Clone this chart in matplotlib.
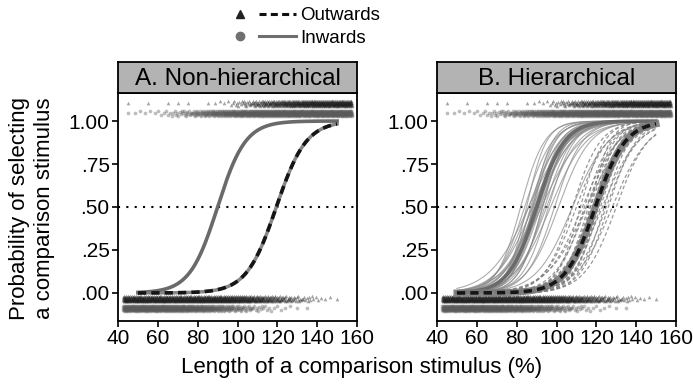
import numpy as np
import matplotlib
matplotlib.use('Agg')
import matplotlib.pyplot as plt
from matplotlib.lines import Line2D
from matplotlib.legend_handler import HandlerTuple

plt.rcParams['font.family'] = ['Liberation Sans', 'DejaVu Sans']

# stimulus lengths (%) and number of "selected" responses out of n_trials at each
levels = [45, 50, 55, 60, 65, 70, 75, 80, 85, 90, 95, 100,
          105, 110, 115, 120, 125, 130, 135, 140, 145, 150, 155]
n_trials = 60
out_yes = [1, 0, 1, 0, 1, 1, 1, 0, 1, 2, 3, 8,
           12, 20, 28, 35, 42, 48, 52, 56, 58, 59, 60]
in_yes = [1, 2, 2, 3, 5, 8, 12, 18, 24, 30, 36, 42,
          48, 52, 55, 57, 58, 59, 59, 60, 60, 60, 60]

# group-level logistic fits: midpoint and scale
mean_in = (90.0, 7.0)
mean_out = (119.5, 7.5)

# per-participant fits (hierarchical model)
mids_in = [82, 84, 85, 86, 87, 87.5, 88, 88.5, 89, 89.5, 90, 90, 90.5, 91, 91.5,
           92, 92.5, 93, 94, 95, 96, 97, 99, 101, 108, 86, 88, 91, 93, 89]
scales_in = [6, 7, 5, 8, 6, 7, 9, 5.5, 7, 8, 6, 9, 7, 6.5, 8,
             7, 10, 6, 7, 8, 6.5, 9, 7, 8, 9, 10, 5, 7.5, 6, 8]
mids_out = [108, 110, 112, 113, 114, 115, 116, 117, 118, 118.5, 119, 119.5, 120,
            120.5, 121, 122, 123, 124, 125, 126, 128, 130, 115, 117, 121]
scales_out = [7, 8, 6, 9, 7, 8, 6.5, 7, 8, 6, 7.5, 9, 7,
              6, 8, 7, 9, 6.5, 8, 7, 9, 8, 10, 5, 6]

panel_titles = ['A. Non-hierarchical', 'B. Hierarchical']

xgrid = np.linspace(50, 150, 300)
spread = np.array([0.0, 0.013, -0.008, 0.004, -0.014, 0.009, -0.004, 0.015, -0.011, 0.002, -0.006])


def logistic(x, mid, scale):
    return 1.0 / (1.0 + np.exp(-(x - mid) / scale))


def jitter_row(counts, y0):
    xs, ys = [], []
    for lv, n in zip(levels, counts):
        if n <= 0:
            continue
        off = (np.arange(n) + 0.5) / n * 5 - 2.5
        xs.append(lv + off)
        ys.append(y0 + np.resize(spread, n))
    return np.concatenate(xs), np.concatenate(ys)


def draw_points(ax):
    out_no = [n_trials - c for c in out_yes]
    in_no = [n_trials - c for c in in_yes]
    x, y = jitter_row(out_yes, 1.103)
    ax.scatter(x, y, marker='^', s=7, color='#202020', alpha=0.4, linewidths=0, zorder=2)
    x, y = jitter_row(in_yes, 1.045)
    ax.scatter(x, y, marker='o', s=7, color='#5a5a5a', alpha=0.4, linewidths=0, zorder=2)
    x, y = jitter_row(out_no, -0.035)
    ax.scatter(x, y, marker='^', s=7, color='#202020', alpha=0.4, linewidths=0, zorder=2)
    x, y = jitter_row(in_no, -0.09)
    ax.scatter(x, y, marker='o', s=7, color='#5a5a5a', alpha=0.4, linewidths=0, zorder=2)


W, H = 693, 389
fig = plt.figure(figsize=(W / 100, H / 100), dpi=100)

panel_left = [118, 437]
panel_w = 239
ax_bottom, ax_top = 321, 93
strip_top = 62

axes = []
for i, left in enumerate(panel_left):
    ax = fig.add_axes([left / W, 1 - ax_bottom / H, panel_w / W, (ax_bottom - ax_top) / H])
    axes.append(ax)
    ax.set_xlim(40, 160)
    ax.set_ylim(-0.163, 1.163)
    ax.set_xticks([40, 60, 80, 100, 120, 140, 160])
    ax.set_yticks([0, 0.25, 0.5, 0.75, 1.0])
    ax.set_yticklabels(['.00', '.25', '.50', '.75', '1.00'])
    ax.tick_params(labelsize=15, length=4, width=1.2, color='black', pad=2)
    for sp in ax.spines.values():
        sp.set_linewidth(1.3)
        sp.set_color('black')

    ax.axhline(0.5, color='black', lw=1.5, ls=(0, (1, 3)), zorder=1)
    draw_points(ax)

    if i == 1:
        for m, s in zip(mids_in, scales_in):
            ax.plot(xgrid, logistic(xgrid, m, s), color='#8a8a8a', lw=0.8, alpha=0.7, zorder=3)
        for m, s in zip(mids_out, scales_out):
            ax.plot(xgrid, logistic(xgrid, m, s), color='#808080', lw=0.9, alpha=0.8,
                    dashes=(3, 2), zorder=3)
        band_w = 5
    else:
        band_w = 2.5

    ax.plot(xgrid, logistic(xgrid, *mean_in), color='#6a6a6a', lw=2.6, zorder=4)
    ax.plot(xgrid, logistic(xgrid, *mean_out), color='#7a7a7a', lw=band_w, alpha=0.9, zorder=4)
    ax.plot(xgrid, logistic(xgrid, *mean_out), color='#151515', lw=2.6,
            dashes=(2.3, 1.4), zorder=5)

    sax = fig.add_axes([left / W, 1 - ax_top / H, panel_w / W, (ax_top - strip_top) / H])
    sax.set_facecolor('#b3b3b3')
    sax.set_xticks([])
    sax.set_yticks([])
    for sp in sax.spines.values():
        sp.set_linewidth(1.3)
    sax.text(0.5, 0.45, panel_titles[i], ha='center', va='center', fontsize=17.5,
             transform=sax.transAxes)

fig.text(362 / W, 1 - 367 / H, 'Length of a comparison stimulus (%)', ha='center',
         va='center', fontsize=16)
fig.text(32 / W, 1 - 208 / H, 'Probability of selecting\na comparison stimulus',
         ha='center', va='center', rotation=90, fontsize=16, linespacing=1.25)

h_out = (Line2D([], [], ls='none', marker='^', color='#222222', ms=6),
         Line2D([], [], color='#111111', lw=2.2, dashes=(2.3, 1.4)))
h_in = (Line2D([], [], ls='none', marker='o', color='#707070', ms=6),
        Line2D([], [], color='#6e6e6e', lw=2.2))
fig.legend([h_out, h_in], ['Outwards', 'Inwards'],
           handler_map={tuple: HandlerTuple(ndivide=2, pad=0)},
           loc='upper left', bbox_to_anchor=(221 / W, 1 - 7 / H), frameon=False,
           fontsize=13.5, handlelength=4.0, handletextpad=0.2, borderpad=0,
           borderaxespad=0, labelspacing=0.3)

fig.savefig('out.png', dpi=100)
